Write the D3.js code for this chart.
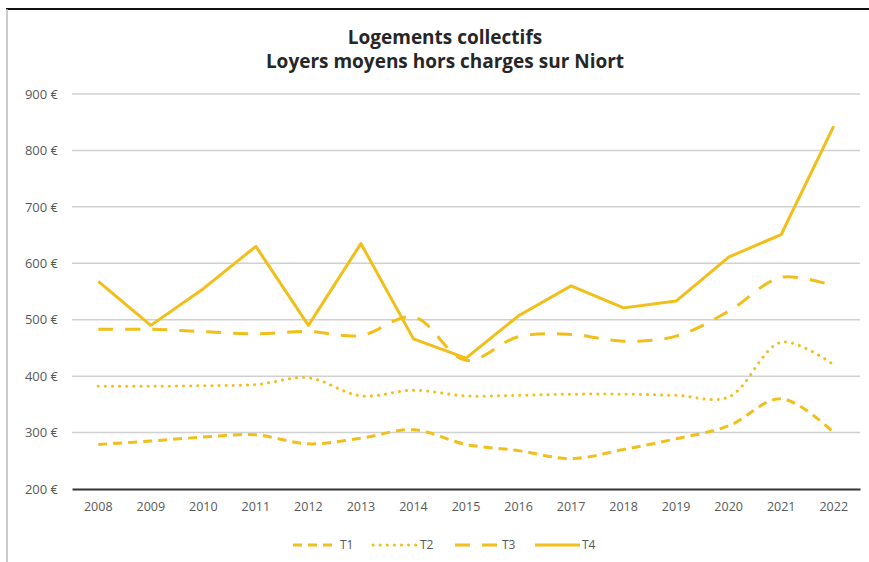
<!DOCTYPE html>
<html>
<head>
<meta charset="utf-8">
<script src="https://cdn.jsdelivr.net/npm/d3@7"></script>
<style>
  body { margin: 0; background: #fff; }
  svg { display: block; font-family: "Open Sans", "DejaVu Sans", sans-serif; }
</style>
</head>
<body>
<svg width="869" height="562"></svg>
<script>
var years = ["2008","2009","2010","2011","2012","2013","2014","2015","2016","2017","2018","2019","2020","2021","2022"];
var t1 = [279, 285, 292, 296, 280, 290, 305, 279, 268, 254, 270, 289, 312, 360, 300];
var t2 = [382, 382, 383, 385, 397, 365, 375, 365, 366, 368, 368, 366, 363, 460, 420];
var t3 = [483, 483, 479, 475, 479, 472, 505, 428, 470, 474, 462, 471, 515, 575, 560];
var t4 = [568, 490, 555, 630, 490, 635, 466, 432, 507, 560, 521, 533, 611, 651, 843];
var yTicks = [200, 300, 400, 500, 600, 700, 800, 900];

var yellow = "#F2BE1A";

var series = [
  {name: "T1", values: t1, dash: "9,6", smooth: true},
  {name: "T2", values: t2, dash: "0.1,7", smooth: true, dots: true},
  {name: "T3", values: t3, dash: "15,12", smooth: true},
  {name: "T4", values: t4, dash: null, smooth: false}
];

var svg = d3.select("svg");

// frame like the original screenshot
svg.append("line").attr("x1", 6).attr("x2", 869).attr("y1", 9).attr("y2", 9)
  .attr("stroke", "#111").attr("stroke-width", 2);
svg.append("line").attr("x1", 7).attr("x2", 7).attr("y1", 9).attr("y2", 562)
  .attr("stroke", "#bbb").attr("stroke-width", 1.5);

var x = d3.scaleBand().domain(years).range([72, 860]);
var y = d3.scaleLinear().domain([200, 900]).range([489, 94]);

// title
svg.append("text").attr("x", 445).attr("y", 44).attr("text-anchor", "middle")
  .attr("font-size", 19).attr("font-weight", "bold").attr("fill", "#262626")
  .text("Logements collectifs");
svg.append("text").attr("x", 445).attr("y", 68).attr("text-anchor", "middle")
  .attr("font-size", 19).attr("font-weight", "bold").attr("fill", "#262626")
  .text("Loyers moyens hors charges sur Niort");

// grid
svg.append("g").selectAll("line").data(yTicks.slice(1)).enter().append("line")
  .attr("x1", 72).attr("x2", 860)
  .attr("y1", function(d) { return y(d); }).attr("y2", function(d) { return y(d); })
  .attr("stroke", "#d0d0d0").attr("stroke-width", 1.5);

// y axis labels
var yAxis = svg.append("g").attr("transform", "translate(60,0)")
  .call(d3.axisLeft(y).tickValues(yTicks).tickSize(0).tickPadding(2)
    .tickFormat(function(d) { return d + " €"; }));
yAxis.select(".domain").remove();
yAxis.attr("font-size", 13);
yAxis.selectAll("text").attr("fill", "#595959")
  .attr("font-family", "Open Sans, sans-serif");

// x axis
var xAxis = svg.append("g").attr("transform", "translate(0,489)")
  .call(d3.axisBottom(x).tickSize(0).tickPadding(13));
xAxis.select(".domain").attr("stroke", "#333").attr("stroke-width", 2);
xAxis.attr("font-size", 12.5);
xAxis.selectAll("text").attr("fill", "#595959")
  .attr("font-family", "Open Sans, sans-serif");

// lines
var lineStraight = d3.line()
  .x(function(d, i) { return x(years[i]) + x.bandwidth() / 2; })
  .y(function(d) { return y(d); });
var lineSmooth = d3.line()
  .x(function(d, i) { return x(years[i]) + x.bandwidth() / 2; })
  .y(function(d) { return y(d); })
  .curve(d3.curveCatmullRom.alpha(0.5));

svg.append("g").selectAll("path").data(series).enter().append("path")
  .attr("d", function(s) { return s.smooth ? lineSmooth(s.values) : lineStraight(s.values); })
  .attr("fill", "none")
  .attr("stroke", yellow)
  .attr("stroke-width", 3)
  .attr("stroke-linecap", function(s) { return s.dots ? "round" : "butt"; })
  .attr("stroke-linejoin", "round")
  .attr("stroke-dasharray", function(s) { return s.dash; });

// legend
var legendX = [293, 373, 455, 535];
var legend = svg.append("g").selectAll("g").data(series).enter().append("g")
  .attr("transform", function(s, i) { return "translate(" + legendX[i] + ",545)"; });
legend.append("line").attr("x1", 0).attr("x2", 45).attr("y1", 0).attr("y2", 0)
  .attr("stroke", yellow).attr("stroke-width", 3)
  .attr("stroke-linecap", function(s) { return s.dots ? "round" : "butt"; })
  .attr("stroke-dasharray", function(s) { return s.dash; });
legend.append("text").attr("x", 47).attr("y", 4).attr("font-size", 12)
  .attr("fill", "#595959").text(function(s) { return s.name; });
</script>
</body>
</html>
